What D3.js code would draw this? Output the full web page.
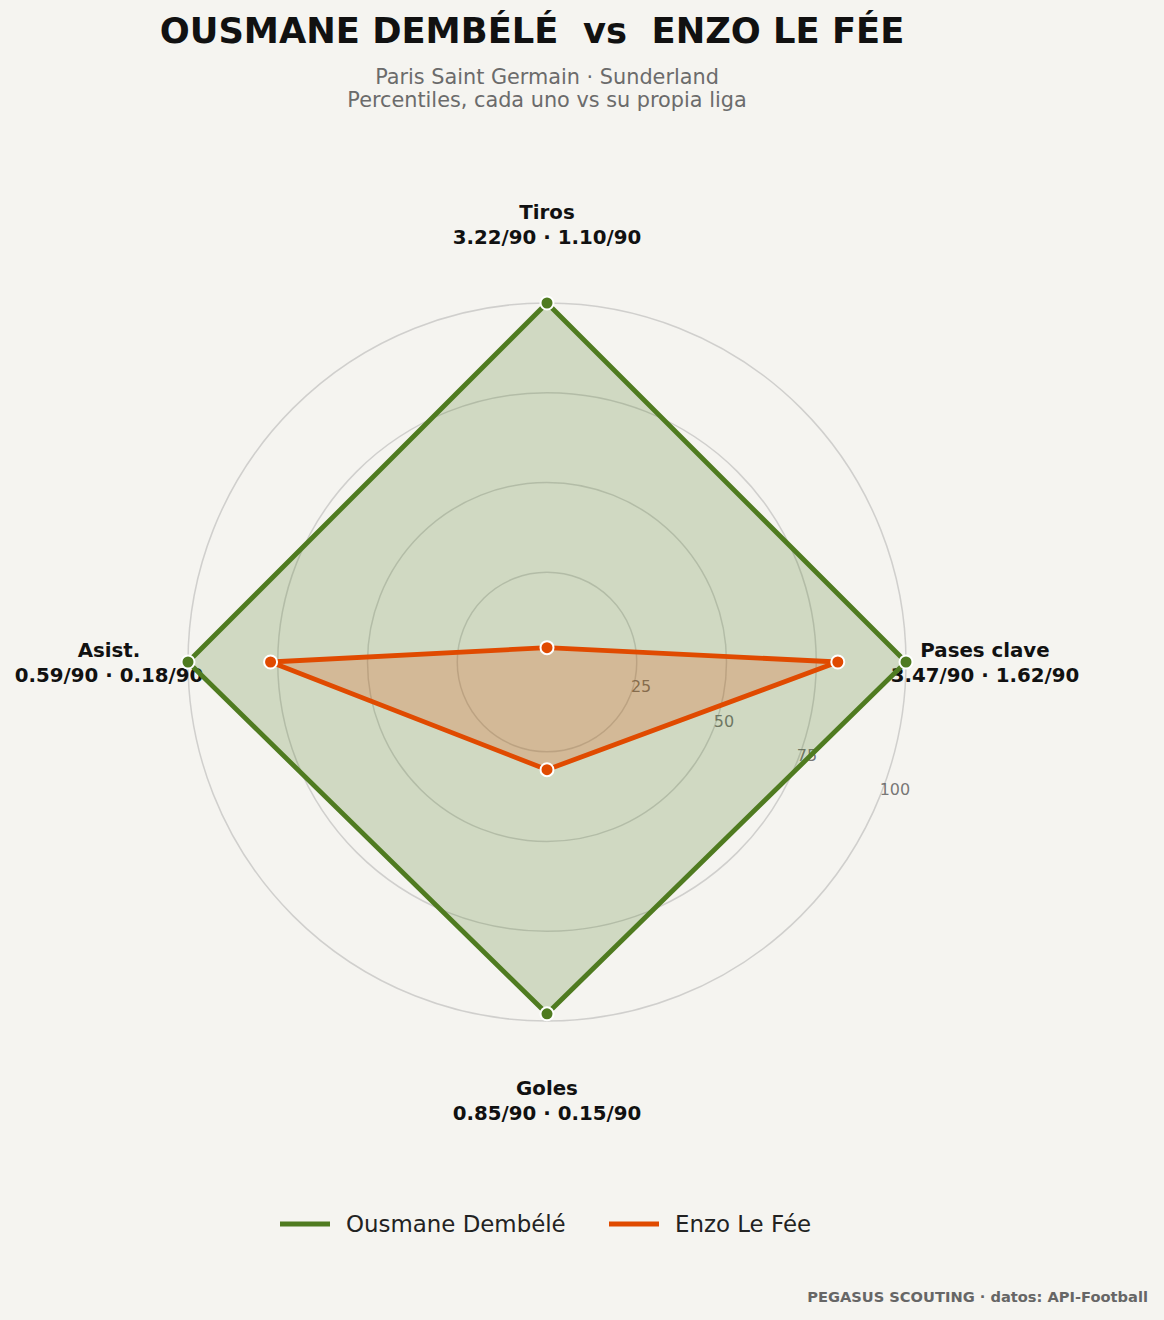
<!DOCTYPE html>
<html><head><meta charset="utf-8">
<script src="https://cdn.jsdelivr.net/npm/d3@7"></script>
<style>
html,body{margin:0;padding:0;background:#f5f4f0;}
svg{display:block;font-family:"DejaVu Sans",sans-serif;}
</style></head>
<body>
<svg id="chart" width="1164" height="1320"></svg>
<script>
const categories = ["Tiros", "Pases clave", "Goles", "Asist."];
const per90Dembele = ["3.22/90", "3.47/90", "0.85/90", "0.59/90"];
const per90LeFee = ["1.10/90", "1.62/90", "0.15/90", "0.18/90"];
const dembeleValues = [100, 100, 98, 100];
const leFeeValues = [4, 81, 30, 77];
const seriesNames = ["Ousmane Dembélé", "Enzo Le Fée"];
const ringTicks = [25, 50, 75, 100];

const colors = ["#4f7b20", "#e04a00"];
const svg = d3.select("#chart");
const W = 1164, cx = 547, cy = 662;
const r = d3.scaleLinear().domain([0, 100]).range([0, 359]);
const angle = d3.scalePoint().domain(categories).range([0, 2 * Math.PI * 3 / 4]);

svg.append("rect").attr("width", W).attr("height", 1320).attr("fill", "#f5f4f0");

// title
svg.append("text").attr("x", 532).attr("y", 43).attr("text-anchor", "middle")
  .attr("font-weight", "bold").attr("font-size", 35.3).attr("fill", "#111")
  .text("OUSMANE DEMBÉLÉ  vs  ENZO LE FÉE").attr("xml:space", "preserve").style("white-space", "pre");
svg.append("text").attr("x", 547).attr("y", 84).attr("text-anchor", "middle")
  .attr("font-size", 20.8).attr("fill", "#6b6b6b").text("Paris Saint Germain · Sunderland");
svg.append("text").attr("x", 547).attr("y", 107).attr("text-anchor", "middle")
  .attr("font-size", 20.8).attr("fill", "#6b6b6b").text("Percentiles, cada uno vs su propia liga");

const g = svg.append("g").attr("transform", `translate(${cx},${cy})`);

// rings
g.selectAll("circle.ring").data(ringTicks).join("circle").attr("class", "ring")
  .attr("r", d => r(d)).attr("fill", "none").attr("stroke", "#999")
  .attr("stroke-opacity", 0.4).attr("stroke-width", 1.5);

// tick labels at 22.5deg below east
const tickAng = Math.PI / 2 + Math.PI / 8;
g.selectAll("text.tick").data(ringTicks).join("text").attr("class", "tick")
  .attr("x", d => r(d) * Math.sin(tickAng) + 1)
  .attr("y", d => -r(d) * Math.cos(tickAng) - 4)
  .attr("font-size", 16).attr("fill", "#555").attr("fill-opacity", 0.8)
  .text(d => d);

// category labels
const labR = 438;
categories.forEach((c, i) => {
  const a = angle(c);
  const x = labR * Math.sin(a), y = -labR * Math.cos(a);
  const t = g.append("text").attr("text-anchor", "middle").attr("font-weight", "bold")
    .attr("font-size", 19.8).attr("fill", "#111");
  t.append("tspan").attr("x", x).attr("y", y - 5).text(c);
  t.append("tspan").attr("x", x).attr("y", y + 20).text(per90Dembele[i] + " · " + per90LeFee[i]);
});

// data
const radial = d3.lineRadial().angle((d, i) => angle(categories[i])).radius(d => r(d)).curve(d3.curveLinearClosed);
[dembeleValues, leFeeValues].forEach((vals, k) => {
  g.append("path").attr("d", radial(vals)).attr("fill", colors[k]).attr("fill-opacity", 0.22).attr("stroke", "none");
  g.append("path").attr("d", radial(vals)).attr("fill", "none").attr("stroke", colors[k])
    .attr("stroke-width", 4.8).attr("stroke-linejoin", "miter");
});
[dembeleValues, leFeeValues].forEach((vals, k) => {
  g.selectAll(null).data(vals).join("circle")
    .attr("cx", (d, i) => r(d) * Math.sin(angle(categories[i])))
    .attr("cy", (d, i) => -r(d) * Math.cos(angle(categories[i])))
    .attr("r", 6.5).attr("fill", colors[k]).attr("stroke", "#fff").attr("stroke-width", 2);
});

// legend
const legX = [280, 609];
seriesNames.forEach((n, i) => {
  svg.append("line").attr("x1", legX[i]).attr("x2", legX[i] + 50).attr("y1", 1224).attr("y2", 1224)
    .attr("stroke", colors[i]).attr("stroke-width", 5);
  svg.append("text").attr("x", legX[i] + 66).attr("y", 1232).attr("font-size", 22.9).attr("fill", "#222").text(n);
});

// footer
svg.append("text").attr("x", 1148).attr("y", 1302).attr("text-anchor", "end").attr("font-weight", "bold")
  .attr("font-size", 14.65).attr("fill", "#666").text("PEGASUS SCOUTING · datos: API-Football");
</script>
</body></html>
